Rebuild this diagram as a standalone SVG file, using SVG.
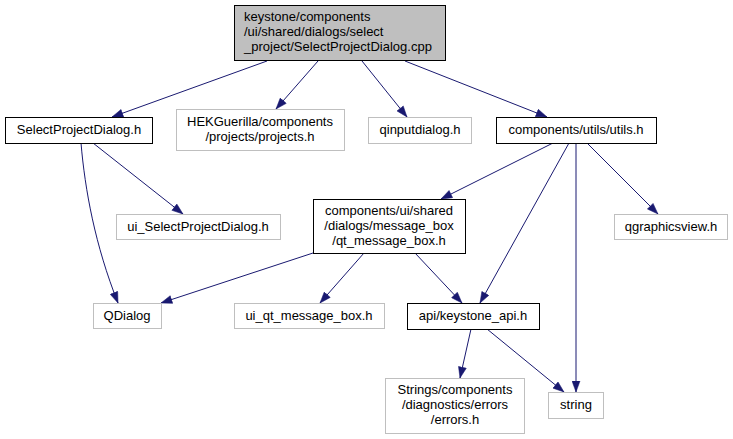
<svg xmlns="http://www.w3.org/2000/svg" width="733" height="439" viewBox="0 0 733 439">
<style>
text{font-family:"Liberation Sans",Arial,sans-serif;font-size:13px;fill:#000}
.c{text-anchor:middle}
.n rect{fill:#fff;stroke:#000;stroke-width:1}
.g rect{fill:#fff;stroke:#bfbfbf;stroke-width:1}
.e path{fill:none;stroke:#191970;stroke-width:1;marker-end:url(#ah)}
</style>
<defs>
<marker id="ah" markerUnits="userSpaceOnUse" markerWidth="12" markerHeight="9" refX="11.5" refY="4.5" orient="auto" viewBox="0 0 12 9">
<path d="M0.5,0.5 L11.5,4.5 L0.5,8.5 z" fill="#191970" stroke="#191970" stroke-width="0.5"/>
</marker>
</defs>
<rect width="733" height="439" fill="#fff"/>
<g id="edges" class="e">
<path d="M267,61 L112,117"/>
<path d="M318,61 L276,109"/>
<path d="M362,61 L407,117"/>
<path d="M405,61 L547,117"/>
<path d="M81,143 C85,190 95,245 118,303"/>
<path d="M93,143 L183,214"/>
<path d="M553,143 L441,199"/>
<path d="M569,143 L480,303"/>
<path d="M576,143 L576,392"/>
<path d="M587,143 L658,214"/>
<path d="M313,253 L161,303"/>
<path d="M364,253 L320,303"/>
<path d="M415,253 L462,303"/>
<path d="M471,329 L460,378"/>
<path d="M487,329 L564,392"/>
</g>
<g id="node_main" class="n">
<rect x="234.5" y="5.5" width="211" height="55" style="fill:#bfbfbf"/>
<text x="244" y="21">keystone/components</text>
<text x="244" y="36">/ui/shared/dialogs/select</text>
<text x="244" y="51">_project/SelectProjectDialog.cpp</text>
</g>
<g id="node_SelectProjectDialog_h" class="n">
<rect x="5.5" y="117.5" width="147" height="26"/>
<text class="c" x="79" y="134">SelectProjectDialog.h</text>
</g>
<g id="node_projects_h" class="g">
<rect x="176.5" y="109.5" width="168" height="41"/>
<text class="c" x="260" y="126">HEKGuerilla/components</text>
<text class="c" x="260" y="141">/projects/projects.h</text>
</g>
<g id="node_qinputdialog_h" class="g">
<rect x="368.5" y="117.5" width="103" height="26"/>
<text class="c" x="420" y="134">qinputdialog.h</text>
</g>
<g id="node_utils_h" class="n">
<rect x="496.5" y="117.5" width="160" height="26"/>
<text class="c" x="576" y="134">components/utils/utils.h</text>
</g>
<g id="node_ui_SelectProjectDialog_h" class="g">
<rect x="116.5" y="214.5" width="164" height="25"/>
<text class="c" x="198" y="231">ui_SelectProjectDialog.h</text>
</g>
<g id="node_qt_message_box_h" class="n">
<rect x="313.5" y="199.5" width="152" height="54"/>
<text class="c" x="389" y="215">components/ui/shared</text>
<text class="c" x="389" y="230">/dialogs/message_box</text>
<text class="c" x="389" y="245">/qt_message_box.h</text>
</g>
<g id="node_qgraphicsview_h" class="g">
<rect x="614.5" y="214.5" width="113" height="25"/>
<text class="c" x="671" y="231">qgraphicsview.h</text>
</g>
<g id="node_QDialog" class="g">
<rect x="93.5" y="303.5" width="68" height="25"/>
<text class="c" x="127" y="320">QDialog</text>
</g>
<g id="node_ui_qt_message_box_h" class="g">
<rect x="234.5" y="303.5" width="150" height="25"/>
<text class="c" x="309" y="320">ui_qt_message_box.h</text>
</g>
<g id="node_keystone_api_h" class="n">
<rect x="407.5" y="303.5" width="132" height="26"/>
<text class="c" x="473" y="320">api/keystone_api.h</text>
</g>
<g id="node_errors_h" class="g">
<rect x="385.5" y="378.5" width="139" height="55"/>
<text class="c" x="455" y="394">Strings/components</text>
<text class="c" x="455" y="409">/diagnostics/errors</text>
<text class="c" x="455" y="424">/errors.h</text>
</g>
<g id="node_string" class="g">
<rect x="548.5" y="392.5" width="55" height="26"/>
<text class="c" x="576" y="409">string</text>
</g>
</svg>
